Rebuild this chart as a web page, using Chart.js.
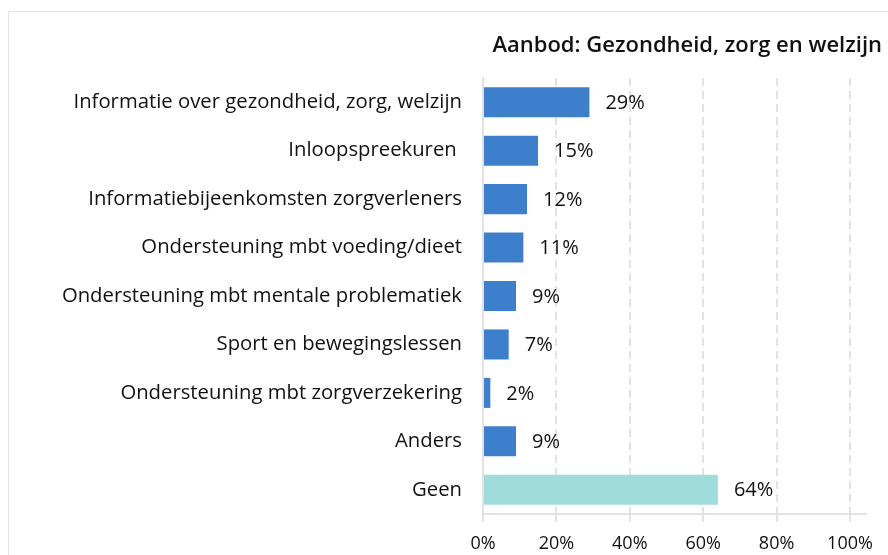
<!DOCTYPE html>
<html>
<head>
    <meta charset="utf-8">
    <title>Aanbod: Gezondheid, zorg en welzijn</title>
    <script src="https://cdn.jsdelivr.net/npm/chart.js"></script>
    <style>
        html, body { margin: 0; padding: 0; background: #fff; }
        #wrap { width: 888px; height: 555px; }
    </style>
</head>
<body>
    <div id="wrap">
        <canvas id="myChart" width="888" height="555"></canvas>
    </div>
    <script>
        const titleText = 'Aanbod: Gezondheid, zorg en welzijn';
        const categories = [
            'Informatie over gezondheid, zorg, welzijn',
            'Inloopspreekuren ',
            'Informatiebijeenkomsten zorgverleners',
            'Ondersteuning mbt voeding/dieet',
            'Ondersteuning mbt mentale problematiek',
            'Sport en bewegingslessen',
            'Ondersteuning mbt zorgverzekering',
            'Anders',
            'Geen'
        ];
        const percentages = [29, 15, 12, 11, 9, 7, 2, 9, 64];
        const xTicks = [0, 20, 40, 60, 80, 100];

        const fontFamily = '"Open Sans", Roboto, sans-serif';
        const blue = '#3e7fcb';
        const teal = '#a0dcdb';
        const gridGray = '#e2e2e2';
        const barColors = categories.map(c => c === 'Geen' ? teal : blue);

        // frame + title drawn by hand so the title can sit at the far right
        const frameAndTitle = {
            id: 'frameAndTitle',
            beforeDraw(chart) {
                const ctx = chart.ctx;
                ctx.save();
                ctx.strokeStyle = '#e3e3e3';
                ctx.lineWidth = 1;
                ctx.beginPath();
                ctx.moveTo(8.5, chart.height);
                ctx.lineTo(8.5, 11.5);
                ctx.lineTo(chart.width, 11.5);
                ctx.stroke();
                ctx.restore();
            },
            afterDraw(chart) {
                const ctx = chart.ctx;
                const area = chart.chartArea;
                ctx.save();
                // axis line runs a little past the last tick
                ctx.strokeStyle = gridGray;
                ctx.lineWidth = 2;
                ctx.beginPath();
                ctx.moveTo(area.right, area.bottom);
                ctx.lineTo(area.right + 17, area.bottom);
                ctx.stroke();

                ctx.font = '600 22px ' + fontFamily;
                ctx.fillStyle = '#111';
                ctx.textAlign = 'right';
                ctx.textBaseline = 'middle';
                ctx.fillText(titleText, 882, 46);
                ctx.restore();
            }
        };

        // value labels at the end of every bar
        const valueLabels = {
            id: 'valueLabels',
            afterDatasetsDraw(chart) {
                const ctx = chart.ctx;
                const meta = chart.getDatasetMeta(0);
                ctx.save();
                ctx.font = '20px ' + fontFamily;
                ctx.fillStyle = '#111';
                ctx.textAlign = 'left';
                ctx.textBaseline = 'middle';
                meta.data.forEach((bar, i) => {
                    ctx.fillText(percentages[i] + '%', bar.x + 16, bar.y + 1);
                });
                ctx.restore();
            }
        };

        const ctx = document.getElementById('myChart');
        new Chart(ctx, {
            type: 'bar',
            data: {
                labels: categories,
                datasets: [{
                    data: percentages,
                    backgroundColor: barColors,
                    borderWidth: 0,
                    categoryPercentage: 1,
                    barPercentage: 0.62
                }]
            },
            options: {
                indexAxis: 'y',
                responsive: false,
                animation: false,
                layout: { padding: { top: 78, right: 38, bottom: 0, left: 0 } },
                plugins: {
                    legend: { display: false },
                    tooltip: { enabled: false }
                },
                scales: {
                    x: {
                        min: 0,
                        max: 100,
                        afterBuildTicks(scale) {
                            scale.ticks = xTicks.map(v => ({ value: v }));
                        },
                        afterFit(scale) { scale.height = 41; },
                        grid: {
                            color: gridGray,
                            lineWidth: 2,
                            drawTicks: true,
                            tickLength: 8,
                            tickColor: gridGray,
                            tickBorderDash: [],
                            tickWidth: 2
                        },
                        border: { display: true, color: gridGray, width: 2, dash: [8, 5] },
                        ticks: {
                            padding: 11,
                            color: '#111',
                            font: { family: fontFamily, size: 18 },
                            callback: v => v + '%'
                        }
                    },
                    y: {
                        afterFit(scale) { scale.width = 483; },
                        grid: { display: false, drawTicks: false },
                        border: { display: true, color: gridGray, width: 2 },
                        ticks: {
                            padding: 21,
                            color: '#111',
                            font: { family: fontFamily, size: 20.3 }
                        }
                    }
                }
            },
            plugins: [frameAndTitle, valueLabels]
        });
    </script>
</body>
</html>
